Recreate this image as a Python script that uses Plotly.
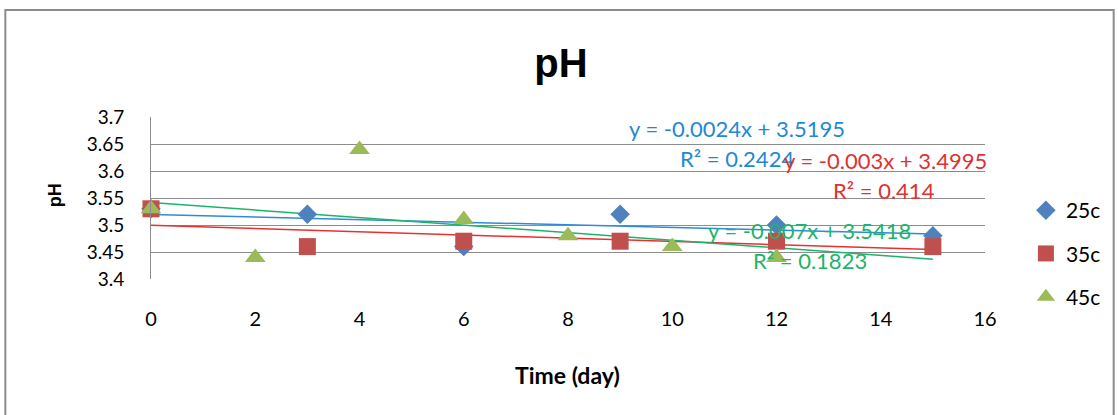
import plotly.graph_objects as go

# ---- data ----
x_25 = [0, 3, 6, 9, 12, 15]
y_25 = [3.53, 3.52, 3.46, 3.52, 3.50, 3.48]
x_35 = [0, 3, 6, 9, 12, 15]
y_35 = [3.53, 3.46, 3.47, 3.47, 3.47, 3.46]
x_45 = [0, 2, 4, 6, 8, 10, 12]
y_45 = [3.53, 3.44, 3.64, 3.51, 3.48, 3.46, 3.44]

series_names = ["25c", "35c", "45c"]
trend_slopes = [-0.0024, -0.003, -0.007]
trend_intercepts = [3.5195, 3.4995, 3.5418]
trend_r2 = ["0.2424", "0.414", "0.1823"]
trend_eq = ["y = -0.0024x + 3.5195", "y = -0.003x + 3.4995", "y = -0.007x + 3.5418"]
trend_x_range = [0, 15]

x_ticks = [0, 2, 4, 6, 8, 10, 12, 14, 16]
y_ticks = [3.4, 3.45, 3.5, 3.55, 3.6, 3.65, 3.7]
y_tick_labels = ["3.4", "3.45", "3.5", "3.55", "3.6", "3.65", "3.7"]

# ---- style ----
W, H = 1118, 415
L, R, T, B = 151, 131, 117, 136
marker_colors = ["#4F81BD", "#C0504D", "#9BBB59"]
marker_symbols = ["diamond", "square", "triangle-up"]
marker_sizes = [15, 17, 18]
trend_colors = ["#2C8CD6", "#E8312F", "#1DB46A"]
text_colors = ["#2388D4", "#E0322F", "#1DB46A"]
FONT = "Lato, sans-serif"
ARIAL = "Liberation Sans, Arial, sans-serif"

fig = go.Figure()

xs = [x_25, x_35, x_45]
ys = [y_25, y_35, y_45]

# trendlines
for i in range(3):
    tx = trend_x_range
    ty = [trend_slopes[i] * v + trend_intercepts[i] for v in tx]
    fig.add_trace(go.Scatter(x=tx, y=ty, mode="lines",
                             line=dict(color=trend_colors[i], width=1.5),
                             showlegend=False, hoverinfo="skip"))

for i in range(3):
    fig.add_trace(go.Scatter(x=xs[i], y=ys[i], mode="markers", name=series_names[i],
                             legendgroup=series_names[i],
                             marker=dict(color=marker_colors[i], symbol=marker_symbols[i],
                                         size=marker_sizes[i], line=dict(width=0)),
                             cliponaxis=False))

def px2x(px):
    return (px - L) / (W - L - R)

def py2y(py):
    return 1 - (py - T) / (H - T - B)

ann = []
eq_pos = [(738, 128), (887, 160), (811, 230)]
r2_pos = [(738, 158), (886, 190), (812, 260)]
for i in range(3):
    ann.append(dict(x=px2x(eq_pos[i][0]), y=py2y(eq_pos[i][1]), xref="paper", yref="paper",
                    text=trend_eq[i], showarrow=False, xanchor="center", yanchor="middle",
                    font=dict(family=FONT, size=22, color=text_colors[i])))
    ann.append(dict(x=px2x(r2_pos[i][0]), y=py2y(r2_pos[i][1]), xref="paper", yref="paper",
                    text="R² = " + trend_r2[i], showarrow=False, xanchor="center", yanchor="middle",
                    font=dict(family=FONT, size=22, color=text_colors[i])))

# axis titles
ann.append(dict(x=px2x(568), y=py2y(375), xref="paper", yref="paper", text="<b>Time (day)</b>",
                showarrow=False, xanchor="center", yanchor="middle",
                font=dict(family=FONT, size=23, color="#000000")))
ann.append(dict(x=px2x(55), y=py2y(195), xref="paper", yref="paper", text="<b>pH</b>",
                showarrow=False, textangle=-90, xanchor="center", yanchor="middle",
                font=dict(family=ARIAL, size=18, color="#000000")))

fig.update_layout(
    width=W, height=H,
    margin=dict(l=L, r=R, t=T, b=B, pad=0),
    paper_bgcolor="white", plot_bgcolor="white",
    title=dict(text="<b>pH</b>", x=561 / W, xanchor="center",
               y=1 - 63 / H, yanchor="middle", xref="container", yref="container",
               font=dict(family=ARIAL, size=40, color="#000000")),
    xaxis=dict(range=[0, 16], tickvals=x_ticks, showgrid=False, zeroline=False,
               showline=False, ticks="", ticklabelstandoff=26,
               tickfont=dict(family=FONT, size=20, color="#000000")),
    yaxis=dict(range=[3.4, 3.7], tickvals=y_ticks, ticktext=y_tick_labels,
               showgrid=True, gridcolor="#8C8C8C", gridwidth=1, zeroline=False,
               showline=True, linecolor="#8C8C8C", linewidth=1, ticks="",
               ticklabelstandoff=22,
               tickfont=dict(family=FONT, size=19, color="#000000")),
    legend=dict(x=px2x(1028), y=py2y(190), xanchor="left", yanchor="top",
                font=dict(family=FONT, size=21, color="#000000"),
                tracegroupgap=13, itemwidth=30, bgcolor="rgba(0,0,0,0)"),
    annotations=ann,
    shapes=[dict(type="rect", xref="paper", yref="paper",
                 x0=px2x(5), x1=px2x(1116), y0=py2y(430), y1=py2y(10),
                 line=dict(color="#8C8C8C", width=2), fillcolor="rgba(0,0,0,0)")],
)

fig.write_html("out.html")
